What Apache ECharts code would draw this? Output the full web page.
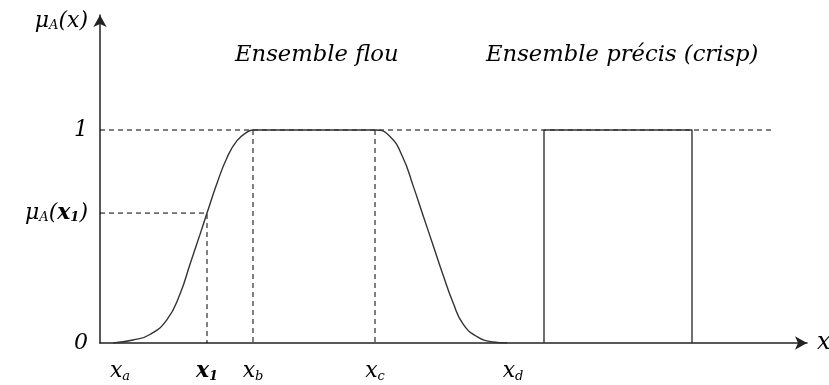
<!DOCTYPE html>
<html>
<head>
<meta charset="utf-8">
<script src="https://cdn.jsdelivr.net/npm/echarts@6/dist/echarts.min.js"></script>
<style>
  html, body { margin: 0; padding: 0; background: #fff; }
  #main { width: 829px; height: 385px; }
</style>
</head>
<body>
<div id="main"></div>
<script>
const chart = echarts.init(document.getElementById('main'))

// positions on the x axis (abstract units)
var xTicks = [20, 107, 153, 275, 413]
var xTickNames = ['a', '1', 'b', 'c', 'd']
var mu1 = 0.61

// fuzzy set membership curve
var fuzzyCurve = [
    [13, 0], [33, 0.014], [50, 0.04], [67, 0.11], [80, 0.23], [90, 0.37],
    [100, 0.51], [107, 0.61], [117, 0.75], [127, 0.87], [137, 0.95], [147, 0.99],
    [153, 1], [275, 1],
    [290, 0.97], [303, 0.87], [313, 0.74], [323, 0.6], [333, 0.46], [343, 0.32],
    [353, 0.19], [363, 0.09], [377, 0.03], [393, 0.005], [407, 0]
]

// crisp set
var crispSet = [[444, 0], [444, 1], [592, 1], [592, 0]]

// dashed guides
var guideOne = [[0, 1], [675, 1]]
var guideMu = [[0, mu1], [107, mu1], [107, 0]]
var guideXb = [[153, 1], [153, 0]]
var guideXc = [[275, 1], [275, 0]]

var serif = '"DejaVu Serif", serif'
var rich = {
    i: { fontFamily: serif, fontStyle: 'italic', fontSize: 22, color: '#000' },
    b: { fontFamily: serif, fontStyle: 'italic', fontWeight: 'bold', fontSize: 22, color: '#000' },
    s: { fontFamily: serif, fontStyle: 'italic', fontSize: 13, color: '#000', padding: [10, 0, 0, 0] },
    sb: { fontFamily: serif, fontStyle: 'italic', fontWeight: 'bold', fontSize: 13, color: '#000', padding: [10, 0, 0, 0] },
    g: { fontFamily: serif, fontStyle: 'italic', fontSize: 22, color: '#000' }
}

function dashed(data) {
    return {
        type: 'line',
        data: data,
        symbol: 'none',
        silent: true,
        lineStyle: { color: '#000', width: 1, type: [5, 4] },
        z: 1
    }
}

chart.setOption({
    animation: false,
    title: [
        {
            text: 'Ensemble flou',
            left: 230, top: 39,
            textStyle: { fontFamily: serif, fontStyle: 'italic', fontWeight: 'normal', fontSize: 22.7, color: '#000' }
        },
        {
            text: 'Ensemble précis (crisp)',
            left: 481, top: 39,
            textStyle: { fontFamily: serif, fontStyle: 'italic', fontWeight: 'normal', fontSize: 22.7, color: '#000' }
        }
    ],
    grid: { left: 100, right: 22, top: 15, bottom: 42, outerBoundsMode: 'none' },
    xAxis: {
        type: 'value',
        min: 0, max: 707,
        name: 'x',
        nameGap: 10,
        nameTextStyle: { fontFamily: serif, fontStyle: 'italic', fontSize: 24, color: '#000', verticalAlign: 'middle', padding: [6, 0, 0, 0] },
        axisLine: { symbol: ['none', 'arrow'], symbolSize: [10, 12], lineStyle: { color: '#222', width: 1.5 } },
        axisTick: { show: false },
        splitLine: { show: false },
        axisLabel: {
            customValues: xTicks,
            margin: 17,
            formatter: function (v) {
                var k = xTickNames[xTicks.indexOf(v)]
                if (k === '1') return '{b|x}{sb|' + k + '}'
                return '{i|x}{s|' + k + '}'
            },
            rich: rich
        }
    },
    yAxis: {
        type: 'value',
        min: 0, max: 1.54,
        name: '{g|μ}{s|A}{i|(x)}',
        nameGap: -6,
        nameTextStyle: { align: 'right', verticalAlign: 'middle', padding: [0, 12, 0, 0], rich: rich },
        axisLine: { symbol: ['none', 'arrow'], symbolSize: [10, 12], lineStyle: { color: '#222', width: 1.5 } },
        axisTick: { show: false },
        splitLine: { show: false },
        axisLabel: {
            customValues: [0, mu1, 1],
            margin: 12,
            formatter: function (v) {
                if (v === 0) return '{i|0}'
                if (v === 1) return '{i|1}'
                return '{g|μ}{s|A}{i|(}{b|x}{sb|1}{i|)}'
            },
            rich: rich
        }
    },
    series: [
        dashed(guideOne),
        dashed(guideMu),
        dashed(guideXb),
        dashed(guideXc),
        {
            type: 'line',
            data: fuzzyCurve,
            symbol: 'none',
            smooth: 0.5,
            lineStyle: { color: '#333', width: 1.4 },
            z: 3
        },
        {
            type: 'line',
            data: crispSet,
            symbol: 'none',
            lineStyle: { color: '#333', width: 1.4 },
            z: 3
        }
    ]
})
</script>
</body>
</html>
